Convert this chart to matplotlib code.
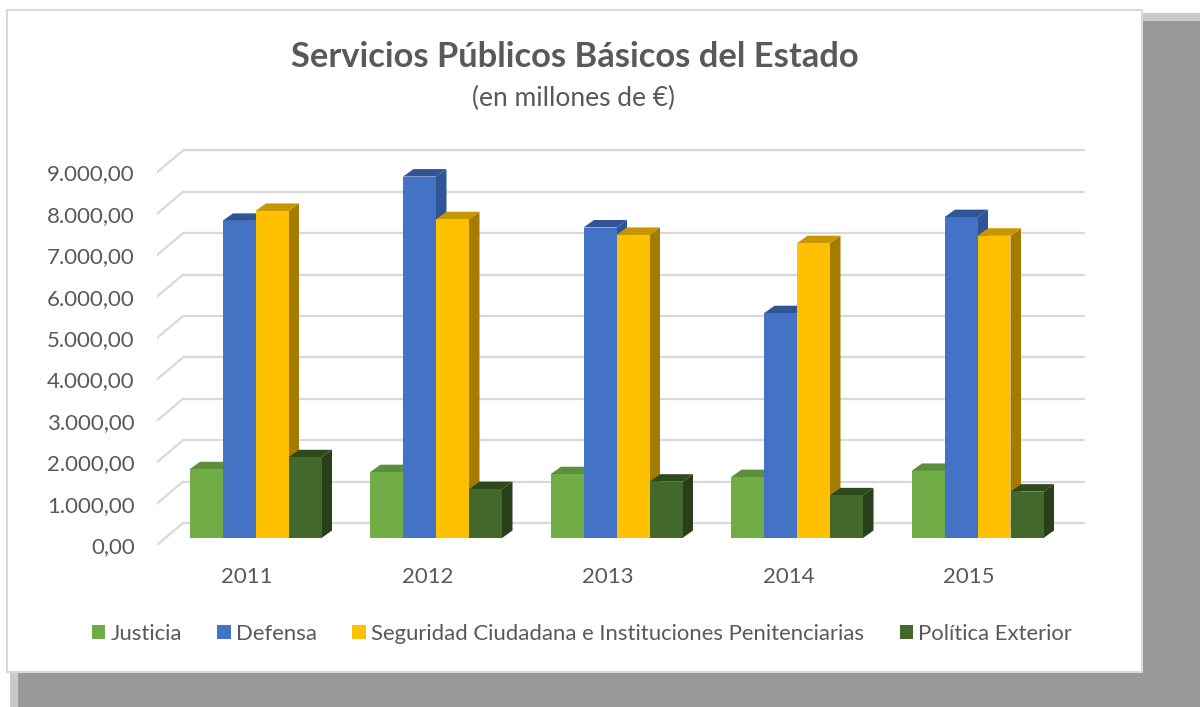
import matplotlib
matplotlib.use("Agg")
import matplotlib.pyplot as plt
from matplotlib.patches import Rectangle, Polygon, Patch

# ── DATA ──────────────────────────────────────────────────
years = ["2011", "2012", "2013", "2014", "2015"]
series = ["Justicia", "Defensa",
          "Seguridad Ciudadana e Instituciones Penitenciarias",
          "Política Exterior"]
justicia  = [1660, 1590, 1540, 1470, 1620]
defensa   = [7660, 8730, 7500, 5430, 7750]
seguridad = [7900, 7700, 7320, 7120, 7300]
politica  = [1950, 1180, 1360, 1030, 1120]
y_ticks = [0, 1000, 2000, 3000, 4000, 5000, 6000, 7000, 8000, 9000]

# front / top / side colours for each series
front = ["#70AD47", "#4472C4", "#FFC000", "#43682B"]
top   = ["#5B8F3B", "#2F5597", "#C89600", "#2E4A1D"]
side  = ["#507E32", "#2F5597", "#A67C00", "#28401A"]

# ── LAYOUT (pixels of a 1200x707 canvas) ──────────────────
W, H = 1200, 707
TXT = "#595959"
FONT = ["Lato", "DejaVu Sans"]
plt.rcParams["font.family"] = FONT

fig = plt.figure(figsize=(12, 7.07), dpi=100)
fig.patch.set_facecolor("white")

def px(x, y, w, h):
    return (x / W, 1 - (y + h) / H, w / W, h / H)

# shadow + white panel
for rect, col in [((10, 13, 1190, 694), "#c9c9c9"),
                  ((18, 21, 1182, 686), "#999999")]:
    x, y, w, h = px(*rect)
    fig.patches.append(Rectangle((x, y), w, h, transform=fig.transFigure,
                                 facecolor=col, edgecolor="none", zorder=0))
x, y, w, h = px(7, 10, 1135, 662)
fig.patches.append(Rectangle((x, y), w, h, transform=fig.transFigure,
                             facecolor="white", edgecolor="#d9d9d9",
                             linewidth=1.5, zorder=1))

# plot area: left=157 (front of axis), right=1085, top=140, bottom=545
ax_l, ax_r, ax_t, ax_b = 157, 1085, 140, 545
ax = fig.add_axes(px(ax_l, ax_t, ax_r - ax_l, ax_b - ax_t))
ax.set_zorder(3)
ax.patch.set_visible(False)

CAT_PX = 180.5          # px per category
X0_PX = 247             # px of category 0 label
PX_UNIT = 0.0414        # px per million
BASE_PX = 538           # bar baseline px
xlim = ((ax_l - X0_PX) / CAT_PX, (ax_r - X0_PX) / CAT_PX)
ylim = (-(ax_b - BASE_PX) / PX_UNIT, (BASE_PX - ax_t) / PX_UNIT)
ax.set_xlim(*xlim)
ax.set_ylim(*ylim)

ux = 1 / CAT_PX         # data units per px in x
uy = 1 / PX_UNIT        # data units per px in y

# gridlines: back wall (15 px above bar plane), front end (7 px below)
back_dy = 15 * uy
front_dy = -7 * uy
back_x = (183 - X0_PX) * ux
for v in y_ticks:
    ax.plot([back_x, xlim[1]], [v + back_dy, v + back_dy], color="#d9d9d9",
            lw=1.6, zorder=1, solid_capstyle="butt")
    ax.plot([xlim[0], back_x], [v + front_dy, v + back_dy], color="#d9d9d9",
            lw=1.6, zorder=1)

# bars with a little depth
bw = 33 * ux
shift = 8.5 * ux
ddx, ddy = 10.5 * ux, 7.5 * uy
data = [justicia, defensa, seguridad, politica]
z = 2
for i in range(len(years)):
    for j, vals in enumerate(data):
        v = vals[i]
        x0 = i + shift + (j - 2) * bw
        x1 = x0 + bw
        ax.add_patch(Polygon([(x1, 0), (x1 + ddx, ddy), (x1 + ddx, v + ddy), (x1, v)],
                             closed=True, facecolor=side[j], edgecolor="none", zorder=z))
        ax.add_patch(Polygon([(x0, v), (x1, v), (x1 + ddx, v + ddy), (x0 + ddx, v + ddy)],
                             closed=True, facecolor=top[j], edgecolor="none", zorder=z))
        ax.bar(x0, v, width=bw, align="edge", color=front[j], zorder=z + 0.5)
        z += 1

for s in ax.spines.values():
    s.set_visible(False)

def fmt(v):
    return f"{v:,.2f}".replace(",", "X").replace(".", ",").replace("X", ".")

ax.set_yticks([v + front_dy for v in y_ticks])
ax.set_yticklabels([fmt(v) for v in y_ticks])
ax.set_xticks(range(len(years)))
ax.set_xticklabels(years)
ax.tick_params(axis="y", length=0, pad=16, labelsize=16, labelcolor=TXT)
ax.tick_params(axis="x", length=0, pad=16, labelsize=16, labelcolor=TXT)

# titles
fig.text(575 / W, 1 - 57 / H, "Servicios Públicos Básicos del Estado",
         ha="center", va="center", fontsize=24.8, fontweight="bold", color=TXT)
fig.text(574 / W, 1 - 98 / H, "(en millones de €)",
         ha="center", va="center", fontsize=19, color=TXT)

# legend
handles = [Patch(facecolor=c, edgecolor="none") for c in front]
fig.legend(handles, series, loc="center", bbox_to_anchor=(582 / W, 1 - 634 / H),
           ncol=4, frameon=False, fontsize=15.9, labelcolor=TXT,
           handlelength=0.6, handleheight=0.6, handletextpad=0.25,
           columnspacing=1.6)

fig.savefig("out.png", dpi=100)
